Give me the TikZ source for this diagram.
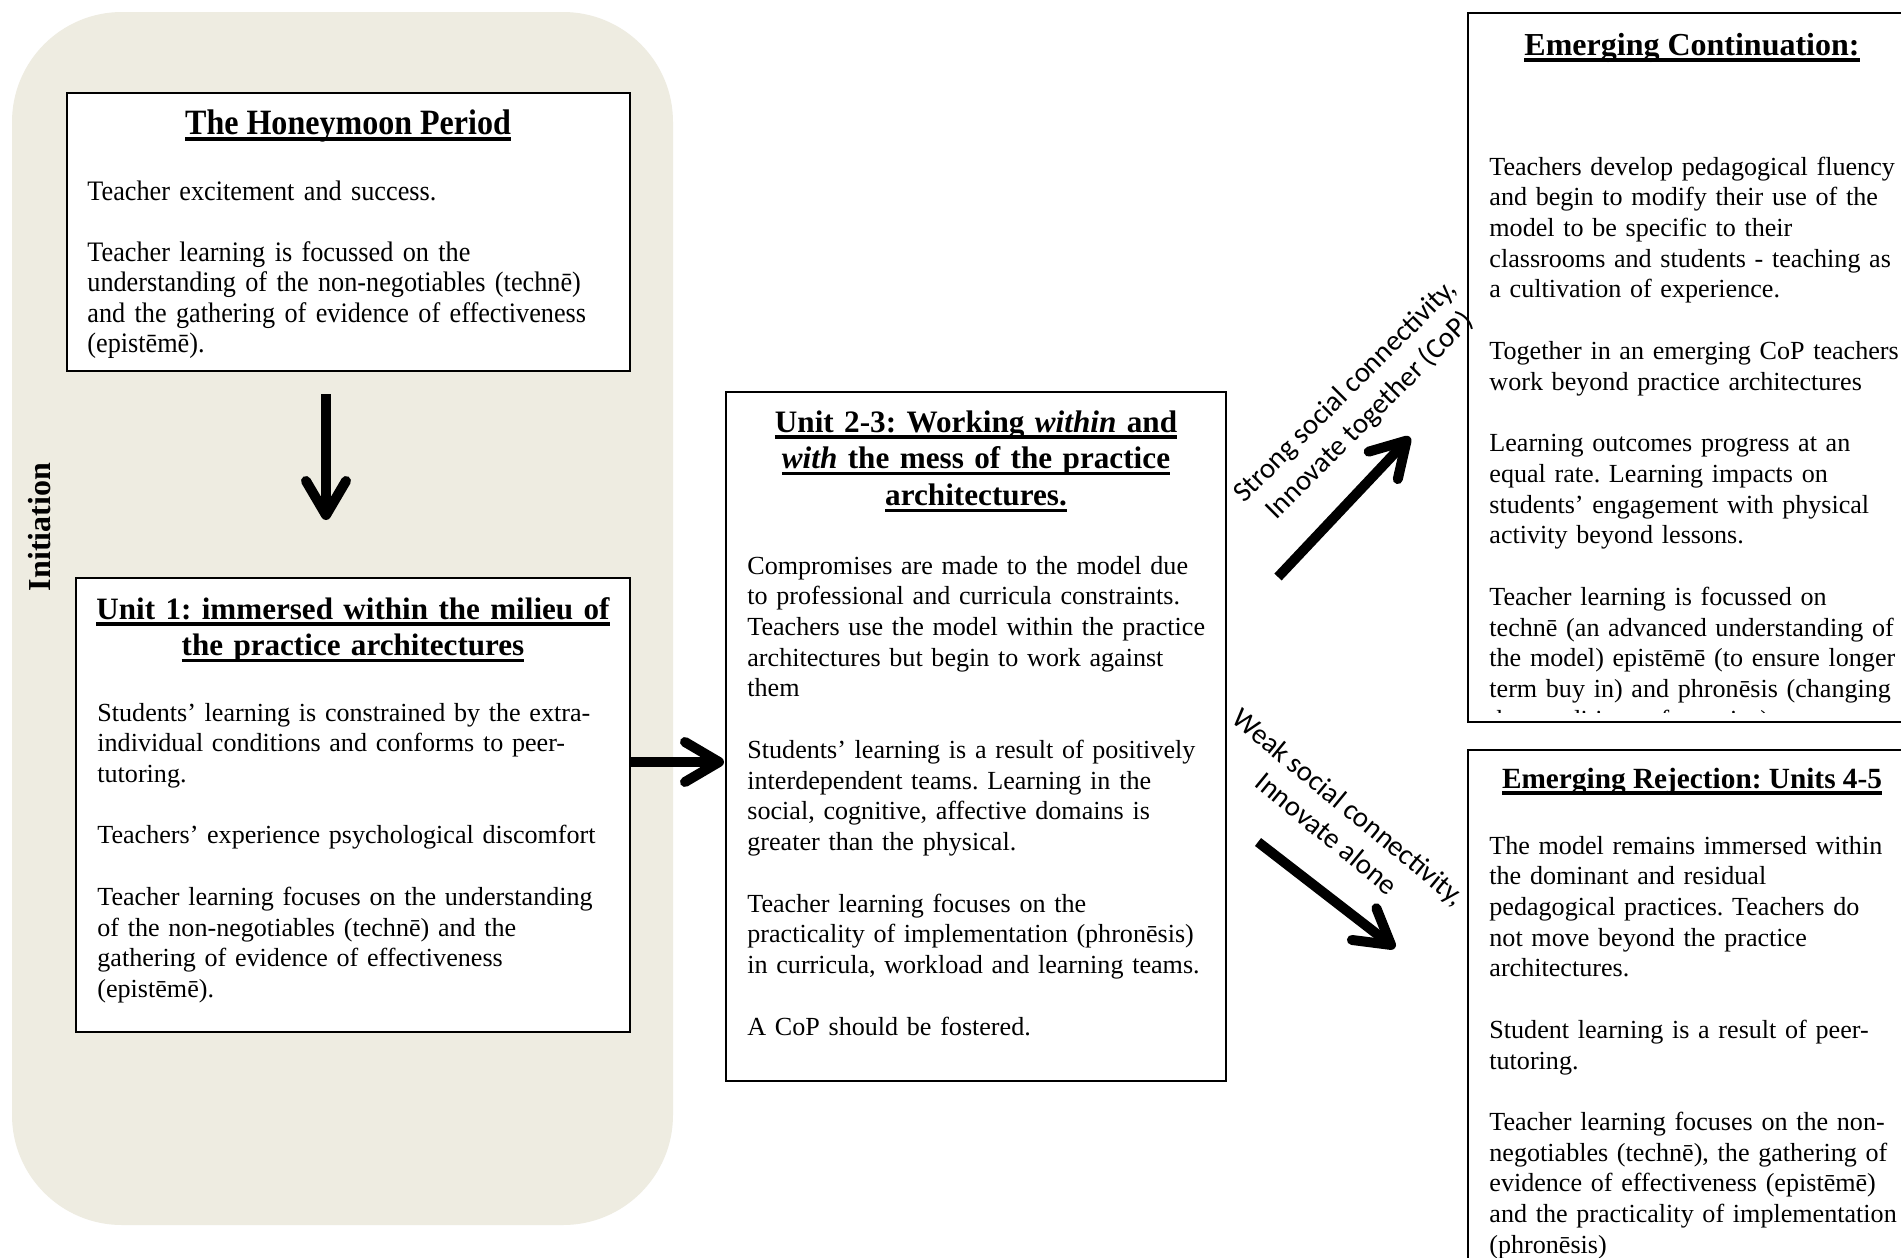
\documentclass[tikz,border=0pt]{standalone}
\usepackage{fontspec}
\setmainfont{Liberation Serif}
\newfontfamily\labelfont{Carlito}
\newfontfamily\hmfamily[FakeStretch=0.93]{Liberation Serif}
\newfontfamily\hmheadfamily[FakeStretch=0.9]{Liberation Serif}
\usetikzlibrary{arrows.meta,fit}
\definecolor{beige}{HTML}{EEECE1}
\frenchspacing
\newcommand\bodyfont{\frenchspacing\fontsize{13.05pt}{15.37pt}\selectfont}
\newcommand\hmfont{\frenchspacing\hmfamily\fontsize{14.1pt}{15.25pt}\selectfont}
\newcommand\headfont{\frenchspacing\fontsize{16pt}{18.4pt}\selectfont\bfseries}
\newsavebox\hdbox
\newcommand\hd[1]{\leavevmode\sbox\hdbox{#1}\rlap{\rule[-3.3pt]{\wd\hdbox}{1.6pt}}\usebox\hdbox}
\tikzset{
  box/.style={draw=black, line width=1pt, fill=white, inner sep=0pt},
  panel/.style={fill=beige, rounded corners=55pt, inner sep=0pt},
  body/.style={anchor=base west, inner sep=0pt, align=left, text width=280pt, font=\bodyfont},
  head/.style={anchor=base, inner sep=0pt, align=center, font=\headfont},
  fat/.style={line width=5pt, -{Straight Barb[length=17pt,width=20pt,round]}},
  lab/.style={inner sep=0pt, align=center, font={\labelfont\fontsize{14.4pt}{17.3pt}\selectfont}}
}
\begin{document}
\begin{tikzpicture}[x=0.5pt,y=-0.5pt]
\useasboundingbox[fill=white] (0,0) rectangle (1901,1258);
% panel
\node[panel, fit={(12,12) (673,1225)}] (panel) {};
\node[rotate=90, font=\headfont, inner sep=0pt] (init) at (40,527) {Initiation};
% boxes
\node[box, fit={(67,93) (630,371)}] (hm) {};
\node[box, fit={(76,578) (630,1032)}] (u1) {};
\node[box, fit={(726,392) (1226,1081)}] (u23) {};
\node[box, fit={(1468,13) (1920,722)}] (cont) {};
\node[box, fit={(1468,750) (1920,1300)}] (rej) {};
% Honeymoon
\node[head, font={\frenchspacing\hmheadfamily\fontsize{17.8pt}{20pt}\selectfont\bfseries}] (hmh) at (348,134) {\hd{The Honeymoon Period}};
\node[body, font=\hmfont] (hmb) at (87,200) {Teacher excitement and success.\\[15.25pt]
Teacher learning is focussed on the\\
understanding of the non-negotiables (technē)\\
and the gathering of evidence of effectiveness\\
(epistēmē).};
% Unit 1
\node[head, text width=270pt, font={\frenchspacing\fontsize{15.55pt}{18.2pt}\selectfont\bfseries}] (u1h) at (353,619) {\hd{Unit 1: immersed within the milieu of}\\\hd{the practice architectures}};
\node[body] (u1b) at (97,721) {Students’ learning is constrained by the extra-\\
individual conditions and conforms to peer-\\
tutoring.\\[15.37pt]
Teachers’ experience psychological discomfort\\[15.37pt]
Teacher learning focuses on the understanding\\
of the non-negotiables (technē) and the\\
gathering of evidence of effectiveness\\
(epistēmē).};
% Unit 2-3
\node[head, text width=240pt, font={\frenchspacing\fontsize{15.6pt}{18.4pt}\selectfont\bfseries}] (u23h) at (976,432) {\hd{Unit 2-3: Working \textit{within} and}\\\hd{\textit{with} the mess of the practice}\\\hd{architectures.}};
\node[body] (u23b) at (747,574) {Compromises are made to the model due\\
to professional and curricula constraints.\\
Teachers use the model within the practice\\
architectures but begin to work against\\
them\\[15.37pt]
Students’ learning is a result of positively\\
interdependent teams. Learning in the\\
social, cognitive, affective domains is\\
greater than the physical.\\[15.37pt]
Teacher learning focuses on the\\
practicality of implementation (phronēsis)\\
in curricula, workload and learning teams.\\[15.37pt]
A CoP should be fostered.};
% Continuation
\node[head] (conth) at (1692,55) {\hd{Emerging Continuation:}};
\begin{scope}
\clip (1468,13) rectangle (1920,712);
\node[body] (contb) at (1489,175) {Teachers develop pedagogical fluency\\
and begin to modify their use of the\\
model to be specific to their\\
classrooms and students - teaching as\\
a cultivation of experience.\\[15.37pt]
Together in an emerging CoP teachers\\
work beyond practice architectures\\[15.37pt]
Learning outcomes progress at an\\
equal rate. Learning impacts on\\
students’ engagement with physical\\
activity beyond lessons.\\[15.37pt]
Teacher learning is focussed on\\
technē (an advanced understanding of\\
the model) epistēmē (to ensure longer\\
term buy in) and phronēsis (changing\\
the conditions of practice)};
\end{scope}
% Rejection
\node[head, font={\frenchspacing\fontsize{14.65pt}{17pt}\selectfont\bfseries}] (rejh) at (1692,788) {\hd{Emerging Rejection: Units 4-5}};
\node[body] (rejb) at (1489,854) {The model remains immersed within\\
the dominant and residual\\
pedagogical practices. Teachers do\\
not move beyond the practice\\
architectures.\\[15.3pt]
Student learning is a result of peer-\\
tutoring.\\[15.3pt]
Teacher learning focuses on the non-\\
negotiables (technē), the gathering of\\
evidence of effectiveness (epistēmē)\\
and the practicality of implementation\\
(phronēsis)};
% arrows
\coordinate (a1s) at (326,394);
\coordinate (a1e) at (326,520);
\draw[fat] (a1s) -- (a1e);
\coordinate (a2s) at (u1.east |- 0,762);
\coordinate (a2e) at (724,762);
\draw[fat] (a2s) -- (a2e);
\coordinate (a3s) at (1278,577);
\coordinate (a3e) at (1410,437);
\draw[fat] (a3s) -- (a3e);
\coordinate (a4s) at (1258,842);
\coordinate (a4e) at (1395,948);
\draw[fat] (a4s) -- (a4e);
% labels
\node[lab, rotate=45] (strong) at (1358,404) {Strong social connectivity,\\Innovate together (CoP)};
\node[lab, rotate=-39.5] (weak) at (1338,820) {Weak social connectivity,\\Innovate alone};
\end{tikzpicture}
\end{document}
